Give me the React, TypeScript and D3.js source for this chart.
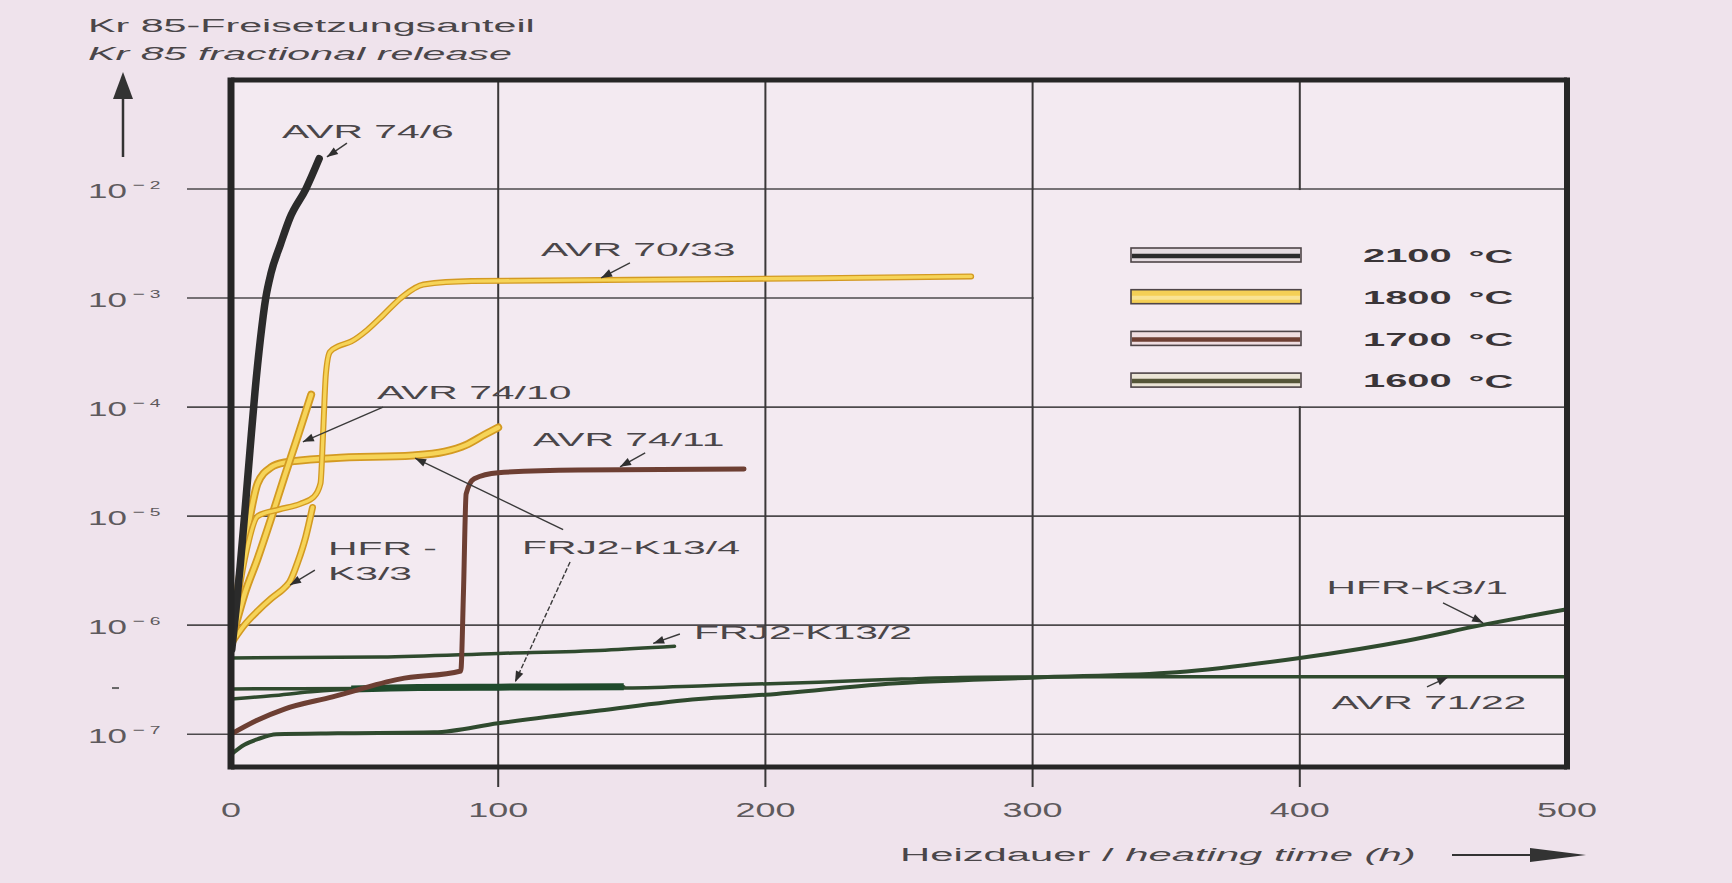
import React from 'react';
import * as d3 from 'd3';

type Pt = [number, number];

// ---------- data ----------
const hoursDomain: [number, number] = [0, 500];
const releaseDomain: [number, number] = [5e-8, 1e-1];
const xTicks = [0, 100, 200, 300, 400, 500];
const yTicks = [1e-7, 1e-6, 1e-5, 1e-4, 1e-3, 1e-2];
const strayMark = 2.65e-7;
// legend panel spans (in data units) the cell left clear of grid lines
const legendPanelHours: [number, number] = [300, 500];
const legendPanelRelease: [number, number] = [1e-4, 1e-2];

const temperatures = ['2100', '1800', '1700', '1600'];

// 2100 °C
const avr74_6: Pt[] = [[0.3, 6e-7], [2, 1.5e-6], [3.4, 3.4e-6], [5.2, 1.1e-5], [7.1, 4e-5], [9, 1.4e-4], [11, 4.2e-4], [13, 1e-3], [15, 1.7e-3], [18.5, 3.1e-3], [22, 5.4e-3], [28, 1e-2], [33, 1.9e-2]];
// 1800 °C
const avr70_33: Pt[] = [[0.5, 7e-7], [3, 2e-6], [6, 5e-6], [10, 1e-5], [18, 1.15e-5], [26, 1.3e-5], [31, 1.5e-5], [33.5, 2e-5], [34.5, 6e-5], [35.5, 2e-4], [37, 3.2e-4], [40, 3.6e-4], [45, 4e-4], [51, 5.1e-4], [57, 7e-4], [64, 1.02e-3], [72, 1.33e-3], [90, 1.43e-3], [150, 1.47e-3], [220, 1.52e-3], [277, 1.58e-3]];
const avr74_10: Pt[] = [[1.5, 9.5e-7], [5, 1.9e-6], [10, 4.1e-6], [15, 9.5e-6], [20, 2.3e-5], [25, 5.4e-5], [30, 1.3e-4]];
const frj2_k13_4_1800: Pt[] = [[0.5, 7e-7], [3, 2.5e-6], [6, 7e-6], [10, 2e-5], [15, 2.8e-5], [20, 3.1e-5], [38, 3.4e-5], [68, 3.6e-5], [80, 3.9e-5], [88, 4.5e-5], [95, 5.6e-5], [100, 6.5e-5]];
const hfr_k3_3: Pt[] = [[0.5, 7e-7], [5, 1e-6], [10, 1.35e-6], [15, 1.75e-6], [20, 2.2e-6], [22, 2.5e-6], [25, 3.8e-6], [28, 6.5e-6], [30.5, 1.2e-5]];
// 1700 °C
const avr74_11: Pt[] = [[0, 1e-7], [10, 1.35e-7], [20, 1.7e-7], [38, 2.2e-7], [63, 3.2e-7], [86, 3.8e-7], [87, 2e-6], [88, 1.6e-5], [91, 2.2e-5], [100, 2.5e-5], [130, 2.65e-5], [192, 2.7e-5]];
// 1600 °C
const frj2_k13_2: Pt[] = [[0, 5e-7], [56, 5.1e-7], [100, 5.5e-7], [140, 5.9e-7], [166, 6.4e-7]];
const frj2_k13_4_1600: Pt[] = [[0, 2.1e-7], [15, 2.25e-7], [30, 2.45e-7], [45, 2.6e-7], [70, 2.68e-7], [100, 2.7e-7], [147, 2.72e-7]];
const avr71_22: Pt[] = [[0, 2.6e-7], [50, 2.62e-7], [100, 2.64e-7], [146, 2.65e-7], [180, 2.8e-7], [220, 3.0e-7], [251, 3.2e-7], [280, 3.33e-7], [350, 3.36e-7], [500, 3.36e-7]];
const hfr_k3_1: Pt[] = [[0, 6.5e-8], [5, 8e-8], [10, 9e-8], [17, 1e-7], [40, 1.02e-7], [76, 1.04e-7], [100, 1.26e-7], [138, 1.65e-7], [175, 2.1e-7], [200, 2.3e-7], [246, 2.9e-7], [300, 3.3e-7], [354, 3.7e-7], [400, 5e-7], [440, 7.2e-7], [468, 1e-6], [500, 1.4e-6]];

const series = [
  { name: 'FRJ2-K13/2', temp: '1600', data: frj2_k13_2 },
  { name: 'AVR 71/22', temp: '1600', data: avr71_22 },
  { name: 'HFR-K3/1', temp: '1600', data: hfr_k3_1 },
  { name: 'FRJ2-K13/4 1600', temp: '1600', data: frj2_k13_4_1600 },
  { name: 'AVR 74/11', temp: '1700', data: avr74_11 },
  { name: 'HFR-K3/3', temp: '1800', data: hfr_k3_3 },
  { name: 'FRJ2-K13/4 1800', temp: '1800', data: frj2_k13_4_1800 },
  { name: 'AVR 74/10', temp: '1800', data: avr74_10 },
  { name: 'AVR 70/33', temp: '1800', data: avr70_33 },
  { name: 'AVR 74/6', temp: '2100', data: avr74_6 },
];

type Pointer = { from: Pt; to: Pt; dashed?: boolean };
const annotations: { text: string; at: Pt; pointers?: Pointer[] }[] = [
  { text: 'AVR 74/6', at: [19.1, 3.4e-2], pointers: [{ from: [43.4, 2.64e-2], to: [35.9, 1.97e-2] }] },
  { text: 'AVR 70/33', at: [116, 2.82e-3], pointers: [{ from: [149.3, 2.1e-3], to: [138.5, 1.53e-3] }] },
  { text: 'AVR 74/10', at: [54.6, 1.35e-4], pointers: [{ from: [56.9, 1e-4], to: [26.9, 4.8e-5] }] },
  { text: 'AVR 74/11', at: [113, 5e-5], pointers: [{ from: [155, 3.8e-5], to: [145.6, 2.83e-5] }] },
  { text: 'FRJ2-K13/4', at: [108.9, 5.2e-6], pointers: [{ from: [124.3, 7.5e-6], to: [68.9, 3.4e-5] }, { from: [126.9, 3.8e-6], to: [106.3, 3.0e-7], dashed: true }] },
  { text: 'HFR -', at: [36.3, 5.1e-6] },
  { text: 'K3/3', at: [36.3, 3.0e-6], pointers: [{ from: [31.4, 3.2e-6], to: [22.1, 2.33e-6] }] },
  { text: 'FRJ2-K13/2', at: [173.3, 8.5e-7], pointers: [{ from: [168, 8.3e-7], to: [158, 6.8e-7] }] },
  { text: 'HFR-K3/1', at: [410, 2.2e-6], pointers: [{ from: [453.6, 1.6e-6], to: [468.6, 1.05e-6] }] },
  { text: 'AVR 71/22', at: [412, 1.97e-7], pointers: [{ from: [447.6, 2.71e-7], to: [455.5, 3.34e-7] }] },
];

// ---------- styles ----------
const W = 1732, H = 883;
const FONT = "'Liberation Sans', Arial, Helvetica, sans-serif";
const PLOT_BG = '#f3eaf1';
const tempColor: Record<string, string> = { '2100': '#2b2b2b', '1800': '#f6d458', '1700': '#6d3f33', '1600': '#2f4a2e' };
const tempEdge: Record<string, string | null> = { '2100': null, '1800': '#d39a22', '1700': null, '1600': null };
const seriesWidth: Record<string, number> = {
  'FRJ2-K13/2': 3.5, 'AVR 71/22': 3.5, 'HFR-K3/1': 4, 'FRJ2-K13/4 1600': 3.5, 'AVR 74/11': 5,
  'HFR-K3/3': 7, 'FRJ2-K13/4 1800': 8, 'AVR 74/10': 8, 'AVR 70/33': 6, 'AVR 74/6': 7.5,
};
const legendFill: Record<string, string> = { '2100': '#e4dbe0', '1800': '#f4cf55', '1700': '#eedde0', '1600': '#ebe5d6' };
const legendStripe: Record<string, string> = { '2100': '#2b2b2b', '1800': '#f9e394', '1700': '#6d3f33', '1600': '#555638' };

function SText(props: any) {
  const { x, y, size = 19, sx = 2.15, anchor = 'start', weight = 'normal', italic = false, fill = '#454545', children } = props;
  return (
    <text transform={`translate(${x},${y}) scale(${sx},1)`} fontSize={size} textAnchor={anchor}
      fontWeight={weight} fontStyle={italic ? 'italic' : 'normal'} fill={fill}
      dominantBaseline="central" fontFamily={FONT}>{children}</text>
  );
}

export default function App() {
  const x = d3.scaleLinear().domain(hoursDomain).range([231, 1567]);
  const y = d3.scaleLog().domain(releaseDomain).range([767, 80]);
  const line = d3.line<Pt>().x(d => x(d[0])).y(d => y(d[1])).curve(d3.curveMonotoneX);
  const [x0, x1] = x.range();
  const [yb, yt] = y.range();

  const arrowHead = (p: Pointer) => {
    const fx = x(p.from[0]), fy = y(p.from[1]), tx = x(p.to[0]), ty = y(p.to[1]);
    const dx = tx - fx, dy = ty - fy, len = Math.hypot(dx, dy);
    const ux = dx / len, uy = dy / len;
    const L = 11, hw = 4;
    const bx = tx - ux * L, by = ty - uy * L;
    return `${tx},${ty} ${bx - uy * hw},${by + ux * hw} ${bx + uy * hw},${by - ux * hw}`;
  };

  const lpX0 = x(legendPanelHours[0]) + 1.2, lpX1 = x(legendPanelHours[1]);
  const lpY0 = y(legendPanelRelease[1]) + 1, lpY1 = y(legendPanelRelease[0]) - 1;

  return (
    <svg width={W} height={H} style={{ position: 'absolute', left: 0, top: 0, display: 'block' }}>
      <rect x={0} y={0} width={W} height={H} fill="#efe3ec" />
      <rect x={x0} y={yt} width={x1 - x0} height={yb - yt} fill={PLOT_BG} />

      {/* horizontal grid + ticks */}
      {yTicks.map(v => (
        <line key={'h' + v} x1={187} x2={x1} y1={y(v)} y2={y(v)} stroke="#4d4a4c" strokeWidth={1.6} />
      ))}
      {/* vertical grid + ticks */}
      {xTicks.filter(v => v > hoursDomain[0] && v < hoursDomain[1]).map(v => (
        <line key={'v' + v} x1={x(v)} x2={x(v)} y1={yt} y2={yb + 20} stroke="#3a3839" strokeWidth={2} />
      ))}
      {/* legend panel: clear of grid lines */}
      <rect x={lpX0} y={lpY0} width={lpX1 - lpX0} height={lpY1 - lpY0} fill={PLOT_BG} />
      <line x1={112} x2={119} y1={y(strayMark)} y2={y(strayMark)} stroke="#666" strokeWidth={2} />

      {/* series */}
      {series.map(s => {
        const edge = tempEdge[s.temp];
        const w = seriesWidth[s.name];
        return (
          <g key={s.name}>
            {edge && <path d={line(s.data) || ''} fill="none" stroke={edge} strokeWidth={w} strokeLinejoin="round" strokeLinecap="round" />}
            <path d={line(s.data) || ''} fill="none" stroke={tempColor[s.temp]}
              strokeWidth={edge ? w * 0.55 : w} strokeLinejoin="round" strokeLinecap="round" />
            {s.name === 'FRJ2-K13/4 1600' && (
              <path d={line(s.data.filter(d => d[0] >= 38)) || ''} fill="none" stroke="#1f4a2c" strokeWidth={7} />
            )}
          </g>
        );
      })}

      {/* frame */}
      <line x1={x0} x2={x0} y1={yt - 2.5} y2={yb + 2.5} stroke="#262626" strokeWidth={7} />
      <line x1={x1} x2={x1} y1={yt - 2.5} y2={yb + 2.5} stroke="#262626" strokeWidth={6} />
      <line x1={x0} x2={x1} y1={yt} y2={yt} stroke="#262626" strokeWidth={5} />
      <line x1={x0} x2={x1} y1={yb} y2={yb} stroke="#262626" strokeWidth={5} />

      {/* y tick labels */}
      {yTicks.map(v => (
        <SText key={'yl' + v} x={88} y={y(v) + 2} size={20} sx={1.75} fill="#5e5a5d">
          10<tspan fontSize={12} dy={-6} dx={3}>−</tspan><tspan fontSize={11} dx={3}>{Math.round(-Math.log10(v))}</tspan>
        </SText>
      ))}
      {/* x tick labels */}
      {xTicks.map(v => (
        <SText key={'xl' + v} x={x(v)} y={810} size={20} sx={1.8} anchor="middle" fill="#5e5a5d">{v}</SText>
      ))}

      {/* axis titles */}
      <SText x={88} y={25} size={19} sx={2.17} fill="#4a4649">Kr 85-Freisetzungsanteil</SText>
      <SText x={88} y={53} size={19} sx={2.17} italic fill="#4a4649">Kr 85 fractional release</SText>
      <line x1={123} x2={123} y1={157} y2={96} stroke="#333" strokeWidth={2.5} />
      <polygon points="123,72 113,99 133,99" fill="#333" />

      <SText x={900} y={855} size={19} sx={2.2} fill="#4a4649">
        Heizdauer /  <tspan fontStyle="italic">heating time (h)</tspan>
      </SText>
      <line x1={1452} x2={1540} y1={855} y2={855} stroke="#333" strokeWidth={2} />
      <polygon points="1586,855 1530,848 1530,862" fill="#333" />

      {/* legend */}
      {temperatures.map((t, i) => {
        const cy = 255 + i * 41.7;
        return (
          <g key={'lg' + t}>
            <rect x={1131} y={cy - 7} width={170} height={14} fill={legendFill[t]} stroke="#4e4548" strokeWidth={1.6} />
            <line x1={1132} x2={1300} y1={cy + 1} y2={cy + 1} stroke={legendStripe[t]} strokeWidth={t === '1800' ? 4 : 4.5} />
            <SText x={1363} y={cy + 1} size={19} sx={2.1} weight="bold" fill="#3a3538">
              {t}<tspan dx={8}>°C</tspan>
            </SText>
          </g>
        );
      })}

      {/* annotations */}
      {annotations.map(a => (
        <g key={'an' + a.text}>
          <SText x={x(a.at[0])} y={y(a.at[1])} size={19} sx={2.15} fill="#4a4649">{a.text}</SText>
          {(a.pointers || []).map((p, j) => (
            <g key={j}>
              <line x1={x(p.from[0])} y1={y(p.from[1])} x2={x(p.to[0])} y2={y(p.to[1])}
                stroke="#3a3a3a" strokeWidth={1.4} strokeDasharray={p.dashed ? '5,2' : undefined} />
              <polygon points={arrowHead(p)} fill="#2f2f2f" />
            </g>
          ))}
        </g>
      ))}
    </svg>
  );
}
